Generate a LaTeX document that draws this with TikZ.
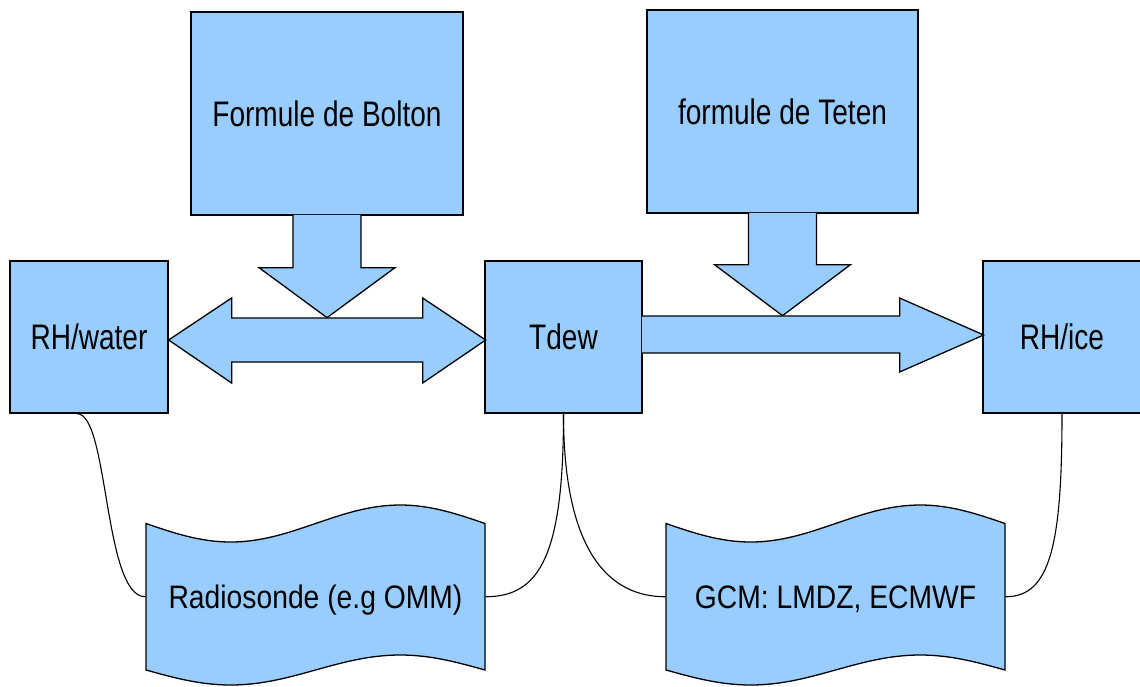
\documentclass[tikz,border=0pt]{standalone}
\usepackage{fontspec}
\setmainfont{Liberation Sans}
\newfontfamily\boxfont[FakeStretch=0.79]{Liberation Sans}
\newfontfamily\tapefont[FakeStretch=0.87]{Liberation Sans}
\definecolor{lightblue}{HTML}{99CCFF}

\begin{document}
\begin{tikzpicture}
  [x=1pt,y=-1pt,line width=1.3pt,
   box/.style={draw,fill=lightblue,inner sep=0pt,text height=25pt,text depth=0pt,
     font=\boxfont\fontsize{35.5}{40}\selectfont},
   tapetext/.style={inner sep=0pt,minimum width=339pt,minimum height=147pt,
     text height=23pt,text depth=0pt,font=\tapefont\fontsize{32.5}{38}\selectfont},
   tapefill/.style={draw,fill=lightblue},
   blockarrow/.style={draw,fill=lightblue},
   link/.style={draw,line width=1.1pt}]
  \useasboundingbox (0,0) rectangle (1140,686);

  \node[box,minimum width=158pt,minimum height=152pt] (water) at (89,337) {RH/water};
  \node[box,minimum width=157pt,minimum height=152pt] (tdew) at (563.5,337) {Tdew};
  \node[box,minimum width=158pt,minimum height=152pt] (ice) at (1062,337) {RH/ice};
  \node[box,minimum width=272pt,minimum height=203pt] (bolton) at (327,113.5) {Formule de Bolton};
  \node[box,minimum width=271pt,minimum height=203pt] (teten) at (782.5,111.5) {formule de Teten};

  % wavy tapes at the bottom
  \foreach \x in {146,666}
    \path[tapefill] (\x,523.5) sin ++(84.75,18.5) cos ++(84.75,-18.5) sin ++(84.75,-18.5) cos ++(84.75,18.5)
      -- ++(0,146.5) sin ++(-84.75,-15) cos ++(-84.75,15) sin ++(-84.75,15) cos ++(-84.75,-15) -- cycle;
  \node[tapetext] (sonde) at (315.5,596.75) {Radiosonde (e.g OMM)};
  \node[tapetext] (gcm) at (835.5,596.75) {GCM: LMDZ, ECMWF};

  % block arrows
  \filldraw[blockarrow] (bolton.south) ++(-34,-0.7) -- ++(0,52.7) -- ++(-34,0) -- ++(68,50)
    -- ++(68,-50) -- ++(-34,0) -- ++(0,-52.7);
  \filldraw[blockarrow] (teten.south) ++(-34,-0.7) -- ++(0,51.7) -- ++(-34,0) -- ++(68,51)
    -- ++(68,-51) -- ++(-34,0) -- ++(0,-51.7);
  \filldraw[blockarrow] (water.east) ++(0,3) -- ++(63,-42) -- ++(0,20) -- ++(191,0) -- ++(0,-20)
    -- ++(63,42) -- ++(-63,43) -- ++(0,-21) -- ++(-191,0) -- ++(0,21) -- cycle;
  \filldraw[blockarrow] (tdew.east) ++(-0.7,-21) -- ++(257.7,0) -- ++(0,-18) -- ++(84,37)
    -- ++(-84,37) -- ++(0,-19) -- ++(-257.7,0);

  % links
  \path[link] ([xshift=-12pt]water.south) .. controls +(32,0) and +(-42,0) .. (sonde.west);
  \path[link] (sonde.east) .. controls +(55,0) and +(0,140) .. (tdew.south);
  \path[link] (tdew.south) .. controls +(0,140) and +(-55,0) .. (gcm.west);
  \path[link] (gcm.east) .. controls +(45,0) and +(0,130) .. (ice.south);

\end{tikzpicture}
\end{document}
